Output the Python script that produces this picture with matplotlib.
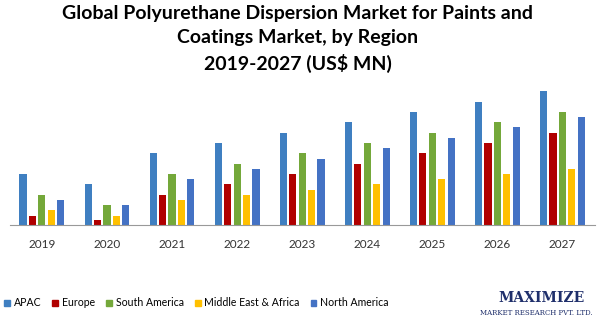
import matplotlib
matplotlib.use("Agg")
from matplotlib import pyplot as plt
from matplotlib.patches import Patch
import numpy as np

plt.rcParams['font.family'] = ['Lato', 'DejaVu Sans']

years = ["2019", "2020", "2021", "2022", "2023", "2024", "2025", "2026", "2027"]
regions = ["APAC", "Europe", "South America", "Middle East & Africa", "North America"]
apac = [51, 41, 72, 82, 92, 103, 113, 123, 134]
europe = [9, 5, 30, 41, 51, 61, 72, 82, 92]
south_america = [30, 20, 51, 61, 72, 82, 92, 103, 113]
mea = [15, 9, 25, 30, 35, 41, 46, 51, 56]
north_america = [25, 20, 46, 56, 66, 77, 87, 98, 108]
colors = ["#3f7fc1", "#b00000", "#74a83a", "#ffc000", "#4472c4"]

series = [apac, europe, south_america, mea, north_america]

fig = plt.figure(figsize=(6.05, 3.27), dpi=100)
ax = fig.add_axes([10 / 605, 102 / 327, 585 / 605, 140 / 327])

x = np.arange(len(years))
step = 0.145
width = 0.11
for i, (vals, c) in enumerate(zip(series, colors)):
    ax.bar(x + (i - 2) * step, vals, width, color=c)

ax.set_xlim(-0.49, 8.5)
ax.set_ylim(0, 140)
ax.set_xticks(x)
ax.set_xticklabels(years, fontsize=8.5, color="#333333")
ax.tick_params(axis="x", length=0, pad=10)
ax.set_yticks([])
for s in ["top", "right", "left"]:
    ax.spines[s].set_visible(False)
ax.spines["bottom"].set_color("#999999")

title_lines = ["Global Polyurethane Dispersion Market for Paints and",
               "Coatings Market, by Region",
               "2019-2027 (US$ MN)"]
for k, line in enumerate(title_lines):
    fig.text(298 / 605, 1 - (13 + 25 * k) / 327, line,
             ha="center", va="center", fontsize=14, fontweight="bold")

handles = [Patch(color=c) for c in colors]
fig.legend(handles, regions, loc="center left", bbox_to_anchor=(0.0, 1 - 303 / 327),
           ncol=5, frameon=False, fontsize=7.6, handlelength=0.55, handleheight=0.55,
           handletextpad=0.35, columnspacing=1.05, borderaxespad=0)

# logo text
fig.text(498 / 605, 1 - 298 / 327, "MAXIMIZE", ha="left", va="center",
         fontsize=10, fontweight="bold", family="DejaVu Serif", color="#1f2f6b")
fig.text(480 / 605, 1 - 313 / 327, "MARKET RESEARCH PVT. LTD.", ha="left", va="center",
         fontsize=5, family="DejaVu Serif", color="#1f2f6b")

fig.savefig("out.png", dpi=100)
